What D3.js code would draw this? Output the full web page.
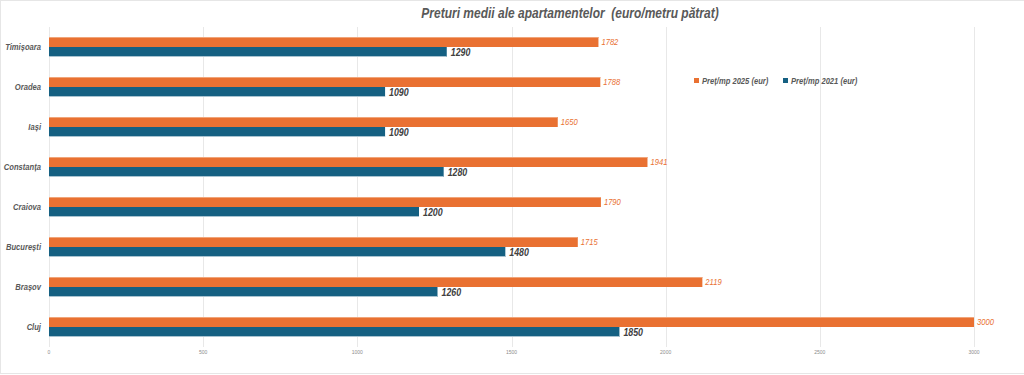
<!DOCTYPE html>
<html>
<head>
<meta charset="utf-8">
<script src="https://cdn.jsdelivr.net/npm/d3@7"></script>
<style>
  body { margin: 0; background: #fff; }
  svg { display: block; font-family: "Liberation Sans", Arial, sans-serif; }
</style>
</head>
<body>
<svg id="chart" width="1024" height="375"></svg>
<script>
// city names, top to bottom as in the chart
var cities = ["Timișoara", "Oradea", "Iași", "Constanța", "Craiova", "București", "Brașov", "Cluj"];
var price2025 = [1782, 1788, 1650, 1941, 1790, 1715, 2119, 3000];
var price2021 = [1290, 1090, 1090, 1280, 1200, 1480, 1260, 1850];
var seriesNames = ["Preț/mp 2025 (eur)", "Preț/mp 2021 (eur)"];
var xTicks = [0, 500, 1000, 1500, 2000, 2500, 3000];

var orange = "#e97132", blue = "#156082", grey = "#595959";

var svg = d3.select("#chart");

// outer chart border
svg.append("rect")
    .attr("x", 0.5).attr("y", 0.5)
    .attr("width", 1030).attr("height", 373)
    .attr("fill", "none")
    .attr("stroke", "#e6e6e6");

var x = d3.scaleLinear().domain([0, 3000]).range([49, 974]);
var y = d3.scaleBand().domain(cities).range([27, 347]).paddingInner(0.5).paddingOuter(0.25);
var sub = d3.scaleBand().domain([0, 1]).range([0, y.bandwidth()]);

// gridlines
svg.append("g").selectAll("line")
    .data(xTicks)
    .join("line")
    .attr("x1", d => Math.round(x(d)) + 0.5)
    .attr("x2", d => Math.round(x(d)) + 0.5)
    .attr("y1", 27).attr("y2", 347)
    .attr("stroke", "#e8e8e8");

// tick labels
svg.append("g").selectAll("text")
    .data(xTicks)
    .join("text")
    .attr("x", d => x(d))
    .attr("y", 354)
    .attr("text-anchor", "middle")
    .attr("font-size", 5)
    .attr("fill", "#8c8c8c")
    .text(d => d);

var rows = cities.map((c, i) => ({city: c, v: [price2025[i], price2021[i]]}));

var g = svg.append("g");
var cols = [orange, blue];
var edge = ["#f0a57a", "#a9c3d1"];

[0, 1].forEach(s => {
    g.selectAll(".bar" + s)
        .data(rows)
        .join("rect")
        .attr("class", "bar" + s)
        .attr("x", x(0))
        .attr("y", d => y(d.city) + sub(s))
        .attr("width", d => x(d.v[s]) - x(0))
        .attr("height", sub.bandwidth())
        .attr("fill", cols[s]);

    // thin light edge on the bars
    g.selectAll(".edge" + s)
        .data(rows)
        .join("line")
        .attr("class", "edge" + s)
        .attr("x1", x(0))
        .attr("x2", d => x(d.v[s]))
        .attr("y1", d => y(d.city) + sub(s) + (s === 0 ? 0.5 : sub.bandwidth() - 0.5))
        .attr("y2", d => y(d.city) + sub(s) + (s === 0 ? 0.5 : sub.bandwidth() - 0.5))
        .attr("stroke", edge[s]);

    g.selectAll(".lbl" + s)
        .data(rows)
        .join("text")
        .attr("class", "lbl" + s + " narrow")
        .attr("x", d => x(d.v[s]) + (s === 0 ? 3 : 4))
        .attr("y", d => y(d.city) + sub(s) + sub.bandwidth() / 2)
        .attr("dy", "0.36em")
        .attr("font-size", s === 0 ? 9.5 : 11)
        .attr("font-style", "italic")
        .attr("font-weight", s === 0 ? "normal" : "bold")
        .attr("fill", s === 0 ? orange : "#404040")
        .text(d => d.v[s]);
});

// category labels
svg.append("g").selectAll("text")
    .data(cities)
    .join("text")
    .attr("class", "narrow")
    .attr("x", 41)
    .attr("y", d => y(d) + y.bandwidth() / 2)
    .attr("dy", "0.36em")
    .attr("text-anchor", "end")
    .attr("font-size", 9.5)
    .attr("font-style", "italic")
    .attr("font-weight", "bold")
    .attr("fill", grey)
    .text(d => d);

// title
svg.append("text")
    .attr("class", "narrow")
    .attr("x", 570)
    .attr("y", 18)
    .attr("text-anchor", "middle")
    .attr("font-size", 15)
    .attr("font-style", "italic")
    .attr("font-weight", "bold")
    .attr("fill", grey)
    .style("white-space", "pre")
    .text("Preturi medii ale apartamentelor  (euro/metru pătrat)");

// legend
var legX = [694, 783];
var leg = svg.append("g").selectAll("g")
    .data(seriesNames)
    .join("g")
    .attr("transform", (d, i) => "translate(" + legX[i] + ",81)");
leg.append("rect")
    .attr("x", 0).attr("y", -3)
    .attr("width", 5).attr("height", 5)
    .attr("fill", (d, i) => cols[i]);
leg.append("text")
    .attr("class", "narrow")
    .attr("x", 8)
    .attr("dy", "0.33em")
    .attr("font-size", 9.5)
    .attr("font-style", "italic")
    .attr("font-weight", "bold")
    .attr("fill", grey)
    .text(d => d);

// the original font is a narrow one: squeeze the text horizontally
svg.selectAll("text.narrow").each(function() {
    var w = this.getComputedTextLength();
    d3.select(this)
        .attr("textLength", w * 0.8)
        .attr("lengthAdjust", "spacingAndGlyphs");
});
</script>
</body>
</html>
